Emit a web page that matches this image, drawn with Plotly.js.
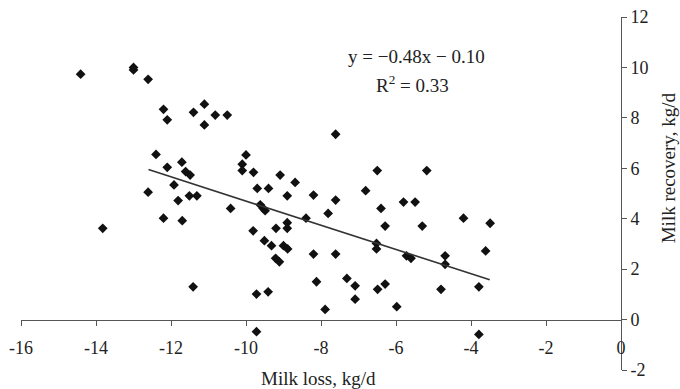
<!DOCTYPE html>
<html><head><meta charset="utf-8">
<script src="https://cdn.plot.ly/plotly-3.0.1.min.js"></script>
<style>html,body{margin:0;padding:0;background:#fff}</style>
</head><body><div id="chart" style="width:680px;height:389px"></div>
<script>
// Milk loss (kg/d) per cow
const milkLoss = [
  -14.41, -13.0, -13.0, -12.61, -12.2, -12.1, -11.4, -11.11, -10.82, -11.11, -10.5,
  -12.4, -12.1, -11.71, -11.61, -11.49, -11.92, -12.61, -11.81, -11.51, -11.31,
  -7.61, -10.0, -10.1, -10.1, -9.8, -9.09, -8.69, -9.7, -9.4, -8.9, -8.2, -7.61,
  -9.62, -9.54, -9.49, -6.5, -5.18, -6.81, -5.8, -5.49, -6.4, -4.2, -3.49, -6.29, -5.3,
  -6.52, -6.52, -5.72, -5.6, -4.69, -4.69, -3.61, -7.09, -6.49, -6.29, -7.09, -5.98,
  -4.8, -3.79, -3.79, -7.31, -10.41, -7.81, -8.4, -8.9, -8.9, -9.2, -9.81, -9.51,
  -9.32, -9.0, -8.89, -9.21, -9.11, -8.2, -7.61, -8.12, -9.72, -9.41, -7.89, -9.72,
  -13.82, -12.2, -11.7, -11.41
];
// Milk recovery (kg/d) per cow
const milkRecovery = [
  9.73, 10.0, 9.9, 9.53, 8.34, 7.92, 8.22, 8.54, 8.11, 7.72, 8.11,
  6.55, 6.04, 6.24, 5.87, 5.73, 5.34, 5.05, 4.72, 4.91, 4.91,
  7.35, 6.53, 6.16, 5.91, 5.84, 5.73, 5.44, 5.2, 5.2, 4.91, 4.94, 4.74,
  4.55, 4.41, 4.32, 5.91, 5.91, 5.11, 4.66, 4.66, 4.41, 4.02, 3.82, 3.71, 3.71,
  3.02, 2.80, 2.53, 2.43, 2.53, 2.19, 2.72, 1.34, 1.20, 1.41, 0.81, 0.51,
  1.20, 1.30, -0.59, 1.63, 4.41, 4.21, 4.02, 3.84, 3.62, 3.62, 3.52, 3.13,
  2.93, 2.93, 2.80, 2.43, 2.29, 2.60, 2.60, 1.50, 1.01, 1.10, 0.40, -0.48,
  3.62, 4.02, 3.92, 1.30
];
// Linear fit
const slope = -0.48, intercept = -0.10, rSquared = 0.33;
const trendX = [-12.6, -3.5];
const trendY = trendX.map(x => slope * x + intercept);

const xTicks = [-16, -14, -12, -10, -8, -6, -4, -2, 0];
const yTicks = [-2, 0, 2, 4, 6, 8, 10, 12];

const family = "'Liberation Serif', 'Times New Roman', Times, serif";
const font = {family: family, size: 18, color: '#222'};
const bigFont = {family: family, size: 19, color: '#222'};
const axisColor = '#555';

const traces = [
  {x: milkLoss, y: milkRecovery, type: 'scatter', mode: 'markers',
   marker: {symbol: 'diamond', size: 7.5, color: '#111'}, hoverinfo: 'x+y'},
  {x: trendX, y: trendY, type: 'scatter', mode: 'lines',
   line: {color: '#333', width: 1.6}, hoverinfo: 'skip'}
];

const layout = {
  width: 680, height: 389,
  margin: {l: 21, r: 59, t: 17, b: 19},
  paper_bgcolor: '#fff', plot_bgcolor: '#fff',
  showlegend: false,
  font: font,
  xaxis: {
    range: [-16, 0], tickvals: xTicks, ticktext: xTicks.map(String),
    showgrid: false, zeroline: false, showline: true, linecolor: axisColor, linewidth: 1,
    ticks: 'outside', ticklen: 5, tickcolor: axisColor,
    anchor: 'free', position: 2 / 14, ticklabelstandoff: 7,
    tickfont: font
  },
  yaxis: {
    range: [-2, 12], tickvals: yTicks, ticktext: yTicks.map(String),
    showgrid: false, zeroline: false, showline: true, linecolor: axisColor, linewidth: 1,
    ticks: 'outside', ticklen: 5, tickcolor: axisColor,
    side: 'right', anchor: 'x', tickfont: font
  },
  annotations: [
    {text: 'Milk loss, kg/d', xref: 'paper', yref: 'paper', x: 0.495, y: 0,
     yshift: -8, showarrow: false, font: bigFont, xanchor: 'center', yanchor: 'middle'},
    {text: 'Milk recovery, kg/d', xref: 'paper', yref: 'y', x: 1, y: 6, xshift: 47,
     showarrow: false, font: bigFont, textangle: -90, xanchor: 'center', yanchor: 'middle'},
    {text: 'y = \u22120.48x \u2212 0.10', xref: 'x', yref: 'y', x: -5.45, y: 10.45,
     showarrow: false, font: bigFont, xanchor: 'center', yanchor: 'middle'},
    {text: 'R<sup>2</sup> = ' + rSquared.toFixed(2), xref: 'x', yref: 'y', x: -5.55, y: 9.35,
     showarrow: false, font: bigFont, xanchor: 'center', yanchor: 'middle'}
  ]
};

Plotly.newPlot('chart', traces, layout, {displayModeBar: false, staticPlot: true});
</script>
</body></html>
